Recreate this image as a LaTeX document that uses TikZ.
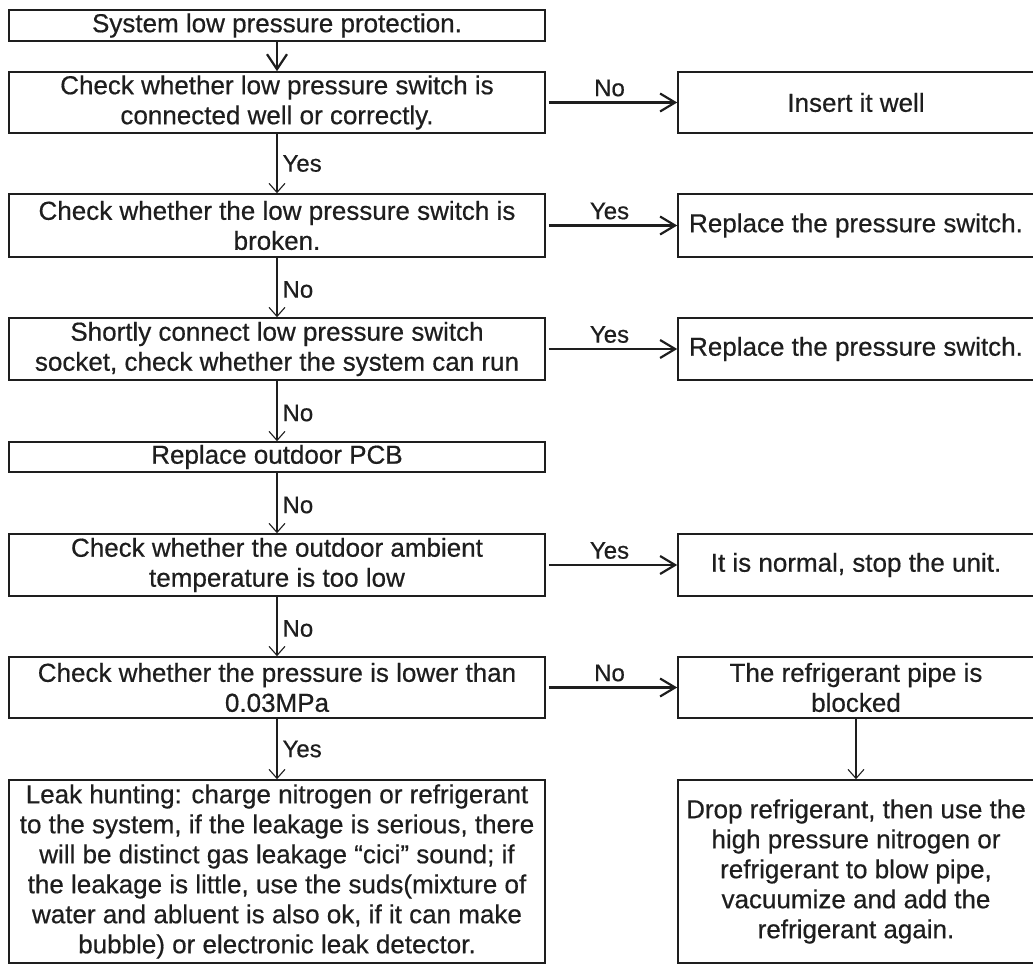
\documentclass[tikz,border=0pt]{standalone}
\usepackage{fontspec}
\setmainfont[FakeBold=0.5]{Liberation Sans}
\usetikzlibrary{arrows.meta}
\definecolor{ink}{HTML}{1E1E1E}
\begin{document}
\begin{tikzpicture}[x=1pt,y=-1pt,
  flowbox/.style={draw=ink, text=ink, line width=1.6pt, rectangle, inner sep=0pt,
    align=center, font=\fontsize{26}{30}\selectfont},
  leftbox/.style={flowbox, minimum width=536pt},
  rightbox/.style={flowbox, minimum width=356pt},
  lbl/.style={text=ink, inner sep=0pt, font=\fontsize{24}{28}\selectfont},
  varrow/.style={draw=ink, line width=1.1pt, -{Straight Barb[length=9pt,width=16pt]}},
  toparrow/.style={draw=ink, line width=2.2pt, -{Straight Barb[length=15pt,width=20pt]}},
  harrow/.style={draw=ink, line width=2.2pt, shorten <=3pt, -{Straight Barb[length=15pt,width=18pt]}}
]
\fill[white] (0,0) rectangle (1033,965);
\useasboundingbox (0,0) rectangle (1033,965);

% left column
\node[leftbox, minimum height=31pt] (b1) at (277,25.5) {System low pressure protection.};
\node[leftbox, minimum height=61pt] (b2) at (277,102.5) {Check whether low pressure switch is\\connected well or correctly.};
\node[leftbox, minimum height=63pt] (b3) at (277,225.5) {Check whether the low pressure switch is\\broken.};
\node[leftbox, minimum height=62pt] (b4) at (277,349) {Shortly connect low pressure switch\\socket, check whether the system can run};
\node[leftbox, minimum height=30pt] (b5) at (277,457) {Replace outdoor PCB};
\node[leftbox, minimum height=62pt] (b6) at (277,565) {Check whether the outdoor ambient\\temperature is too low};
\node[leftbox, minimum height=61pt] (b7) at (277,687.5) {Check whether the pressure is lower than\\0.03MPa};
\node[leftbox, minimum height=183pt] (b8) at (277,871.5) {Leak hunting: charge nitrogen or refrigerant\\to the system, if the leakage is serious, there\\will be distinct gas leakage “cici” sound; if\\the leakage is little, use the suds(mixture of\\water and abluent is also ok, if it can make\\bubble) or electronic leak detector.};

% right column (right edge runs off the page)
\node[rightbox, minimum height=61pt] (r1) at (856,102.5) {Insert it well};
\node[rightbox, minimum height=63pt] (r2) at (856,225.5) {Replace the pressure switch.};
\node[rightbox, minimum height=62pt] (r3) at (856,349) {Replace the pressure switch.};
\node[rightbox, minimum height=62pt] (r4) at (856,565) {It is normal, stop the unit.};
\node[rightbox, minimum height=61pt] (r5) at (856,687.5) {The refrigerant pipe is\\blocked};
\node[rightbox, minimum height=183pt] (r6) at (856,871.5) {Drop refrigerant, then use the\\high pressure nitrogen or\\refrigerant to blow pipe,\\vacuumize and add the\\refrigerant again.};

% vertical connectors
\draw[toparrow] (b1.south) -- (b2.north);
\draw[varrow] (b2.south) -- node[lbl, anchor=west, xshift=5pt] {Yes} (b3.north);
\draw[varrow] (b3.south) -- node[lbl, anchor=west, xshift=5pt, yshift=-2pt] {No} (b4.north);
\draw[varrow] (b4.south) -- node[lbl, anchor=west, xshift=5pt, yshift=-2pt] {No} (b5.north);
\draw[varrow] (b5.south) -- node[lbl, anchor=west, xshift=5pt, yshift=-2pt] {No} (b6.north);
\draw[varrow] (b6.south) -- node[lbl, anchor=west, xshift=5pt, yshift=-2pt] {No} (b7.north);
\draw[varrow] (b7.south) -- node[lbl, anchor=west, xshift=5pt] {Yes} (b8.north);
\draw[varrow] (r5.south) -- (r6.north);

% horizontal connectors
\draw[harrow] (b2.east) -- node[lbl, above=5pt, xshift=-2pt] {No} (r1.west);
\draw[harrow] (b3.east) -- node[lbl, above=5pt, xshift=-2pt] {Yes} (r2.west);
\draw[harrow] (b4.east) -- node[lbl, above=5pt, xshift=-2pt] {Yes} (r3.west);
\draw[harrow] (b6.east) -- node[lbl, above=5pt, xshift=-2pt] {Yes} (r4.west);
\draw[harrow] (b7.east) -- node[lbl, above=5pt, xshift=-2pt] {No} (r5.west);
\end{tikzpicture}
\end{document}
